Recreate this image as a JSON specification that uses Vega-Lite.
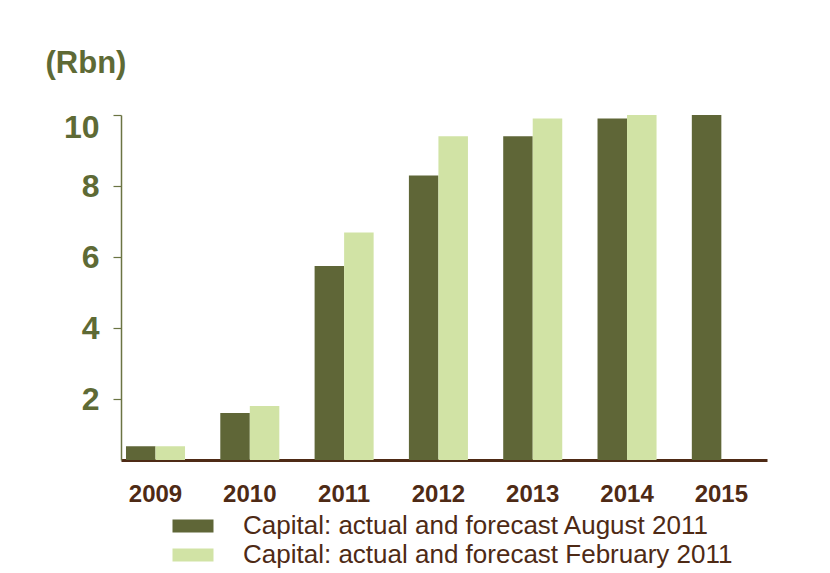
{
  "$schema": "https://vega.github.io/schema/vega-lite/v6.json",
  "width": 646,
  "height": 345,
  "autosize": {"type": "none"},
  "padding": {"left": 121, "top": 115, "right": 63, "bottom": 113},
  "background": "white",
  "config": {
    "view": {"stroke": null},
    "font": "Liberation Sans"
  },
  "data": {
    "values": [
      {"year": "2009", "series": "Capital: actual and forecast August 2011", "value": 0.68},
      {"year": "2009", "series": "Capital: actual and forecast February 2011", "value": 0.68},
      {"year": "2010", "series": "Capital: actual and forecast August 2011", "value": 1.61},
      {"year": "2010", "series": "Capital: actual and forecast February 2011", "value": 1.81},
      {"year": "2011", "series": "Capital: actual and forecast August 2011", "value": 5.75},
      {"year": "2011", "series": "Capital: actual and forecast February 2011", "value": 6.69},
      {"year": "2012", "series": "Capital: actual and forecast August 2011", "value": 8.3},
      {"year": "2012", "series": "Capital: actual and forecast February 2011", "value": 9.4},
      {"year": "2013", "series": "Capital: actual and forecast August 2011", "value": 9.4},
      {"year": "2013", "series": "Capital: actual and forecast February 2011", "value": 9.9},
      {"year": "2014", "series": "Capital: actual and forecast August 2011", "value": 9.9},
      {"year": "2014", "series": "Capital: actual and forecast February 2011", "value": 10.1},
      {"year": "2015", "series": "Capital: actual and forecast August 2011", "value": 10.1}
    ]
  },
  "mark": {"type": "bar", "clip": true},
  "encoding": {
    "x": {
      "field": "year",
      "type": "nominal",
      "scale": {"paddingInner": 0.374, "paddingOuter": 0.112, "align": 0.236},
      "axis": {
        "title": null,
        "labelAngle": 0,
        "ticks": false,
        "tickSize": 0,
        "domainColor": "#4e2a15",
        "domainWidth": 3,
        "domainOpacity": 1,
        "labelFont": "Liberation Sans",
        "labelFontWeight": "bold",
        "labelFontSize": 24,
        "labelColor": "#4e2a15",
        "labelPadding": 22
      }
    },
    "xOffset": {
      "field": "series",
      "type": "nominal",
      "scale": {"paddingInner": 0, "paddingOuter": 0}
    },
    "y": {
      "field": "value",
      "type": "quantitative",
      "scale": {"domain": [0.29, 10], "nice": false, "zero": false},
      "axis": {
        "values": [2, 4, 6, 8, 10],
        "grid": false,
        "domainColor": "#6b7443",
        "domainWidth": 1.5,
        "tickColor": "#6b7443",
        "tickWidth": 1.2,
        "tickSize": 8,
        "labelFont": "Liberation Sans",
        "labelFontWeight": "bold",
        "labelFontSize": 32,
        "labelColor": "#5e6a35",
        "labelPadding": 14,
        "labelFlush": true,
        "labelFlushOffset": 3,
        "title": "(Rbn)",
        "titleAngle": 0,
        "titleAlign": "left",
        "titleBaseline": "alphabetic",
        "titleX": -76,
        "titleY": -43,
        "titleFont": "Liberation Sans",
        "titleFontWeight": "bold",
        "titleFontSize": 31,
        "titleColor": "#5e6a35"
      }
    },
    "color": {
      "field": "series",
      "type": "nominal",
      "scale": {
        "domain": ["Capital: actual and forecast August 2011", "Capital: actual and forecast February 2011"],
        "range": ["#5f6637", "#d1e3a5"]
      },
      "legend": {
        "title": null,
        "orient": "none",
        "legendX": 58,
        "legendY": 397,
        "direction": "vertical",
        "padding": 0,
        "symbolType": "M-1.5,-0.48H1.5V0.48H-1.5Z",
        "symbolSize": 747,
        "symbolStrokeWidth": 0,
        "symbolOpacity": 1,
        "labelFont": "Liberation Sans",
        "labelFontSize": 26,
        "labelColor": "#4e2a15",
        "labelOffset": 36,
        "labelLimit": 700,
        "rowPadding": 2
      }
    }
  }
}
